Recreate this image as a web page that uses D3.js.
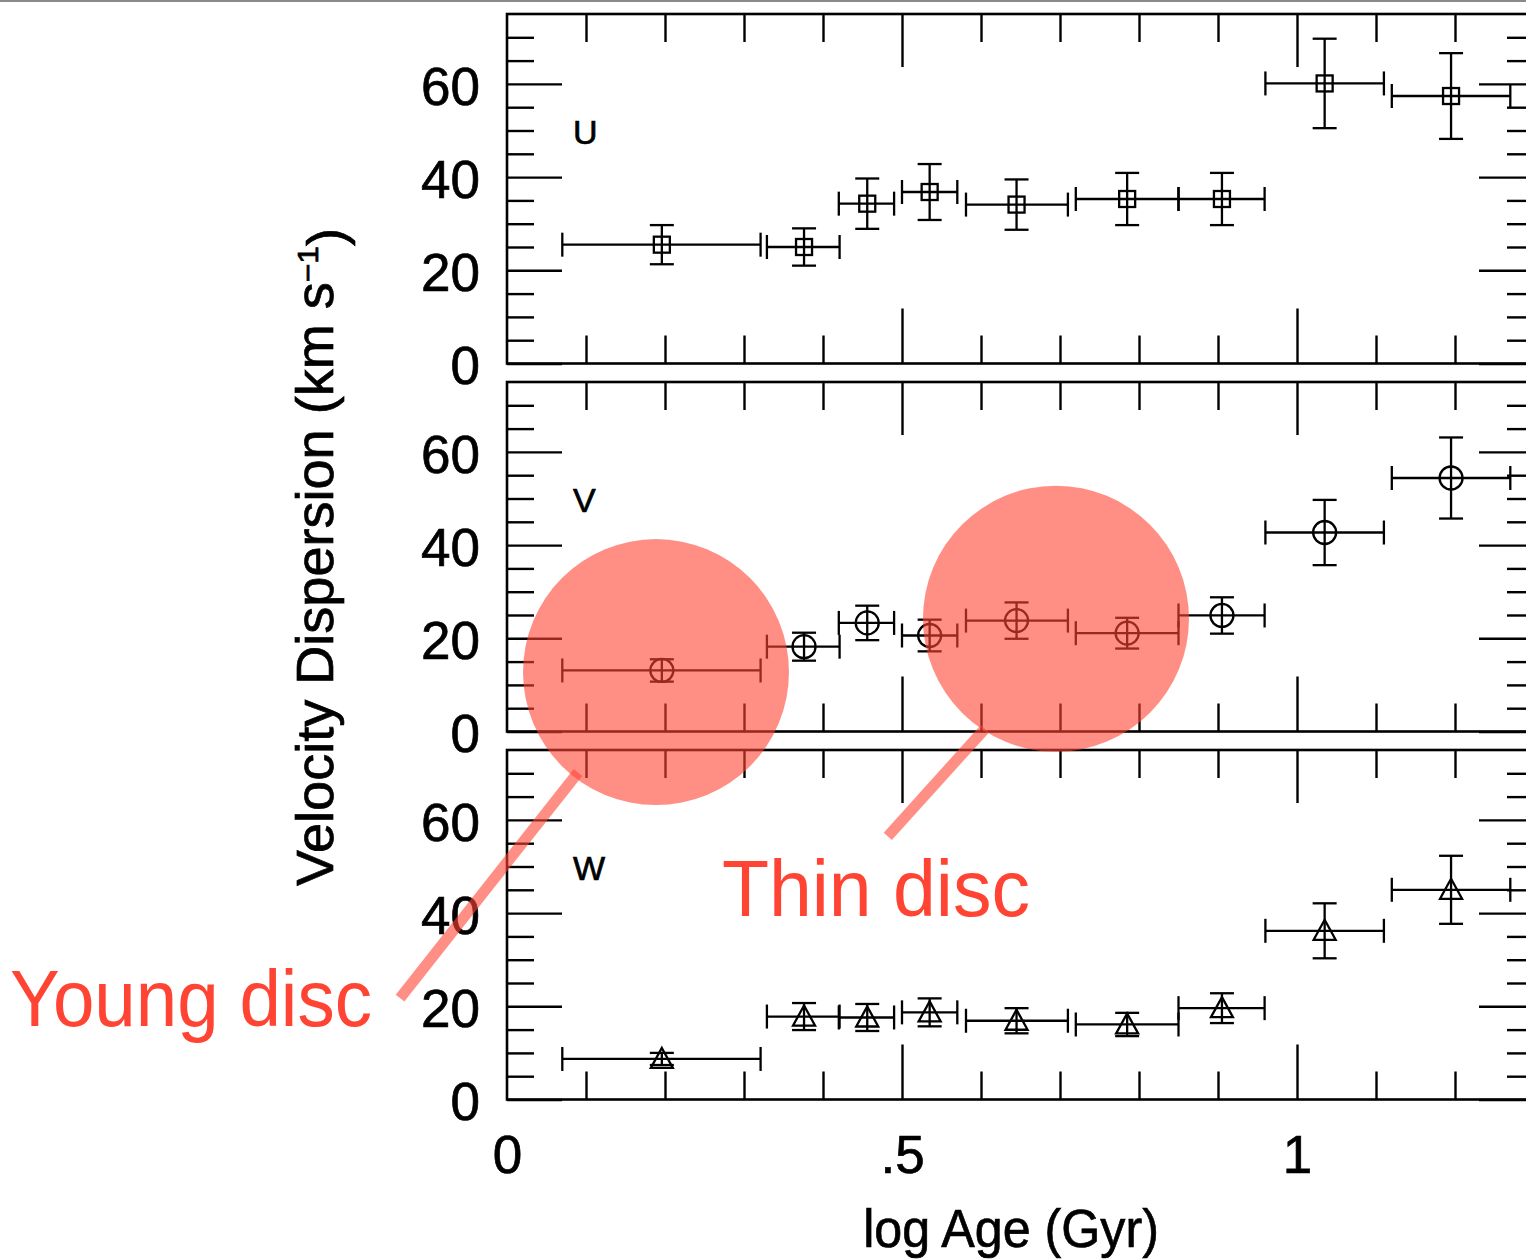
<!DOCTYPE html>
<html>
<head>
<meta charset="utf-8">
<script src="https://d3js.org/d3.v7.min.js"></script>
<style>
  body { margin: 0; background: #fff; overflow: hidden; }
  text { font-family: "Liberation Sans", Helvetica, Arial, sans-serif; }
  .ink { stroke: #000; stroke-width: 0.7px; }
</style>
</head>
<body>
<svg width="1526" height="1260"></svg>
<script>
  // age bins (log Age, Gyr): centre and bin edges
  var ageMid = [0.196, 0.376, 0.456, 0.535, 0.645, 0.785, 0.905, 1.035, 1.195];
  var ageLo  = [0.070, 0.329, 0.420, 0.500, 0.581, 0.720, 0.850, 0.960, 1.120];
  var ageHi  = [0.321, 0.421, 0.490, 0.570, 0.710, 0.850, 0.959, 1.110, 1.270];

  // velocity dispersions (km/s) and their errors
  var sigU = [25.5, 25.0, 34.3, 36.8, 34.1, 35.3, 35.3, 60.1, 57.4];
  var errU = [ 4.2,  4.0,  5.4,  6.0,  5.4,  5.6,  5.6,  9.6,  9.2];
  var sigV = [13.1, 18.2, 23.3, 20.6, 23.8, 21.1, 24.9, 42.7, 54.4];
  var errV = [ 2.4,  3.0,  3.7,  3.4,  3.9,  3.3,  3.9,  7.0,  8.7];
  var sigW = [ 8.7, 17.8, 17.6, 18.7, 16.9, 16.1, 19.6, 36.2, 45.0];
  var errW = [ 1.3,  2.9,  2.9,  3.0,  2.7,  2.5,  3.2,  5.9,  7.3];

  var panelNames = ["U", "V", "W"];
  var yTicks = [0, 20, 40, 60];
  var xTicks = [0, 0.5, 1];
  var xTickLabels = ["0", ".5", "1"];

  // annotations, in age / V-panel km/s units
  var noteLabels = ["Young disc", "Thin disc"];
  var noteCx = [0.1886, 0.6949];
  var noteCy = [12.75, 24.2];
  var noteLineFrom = [[0.0899, -8.8], [0.605, 0.6]];
  var noteLineTo = [[-0.1354, -57.2], [0.482, -22.5]];
  var noteTextFrom = [-0.629, 0.272];
  var noteTextTo = [-0.171, 0.662];
  var noteTextY = [-63.2, -39.6];

  var svg = d3.select("svg"),
    width = +svg.attr("width"),
    height = +svg.attr("height");

  var red = "#ff4433";
  var xscale = d3.scaleLinear().domain([0, 1.3]).range([507, 1534]);
  var panelTop = [14, 382, 750],
    panelH = 349.5;

  // thin grey rule along the top edge
  svg.append("rect").attr("x", 0).attr("y", 0).attr("width", width).attr("height", 2).attr("fill", "#8a8a8a");

  var yscales = [];
  var series = [[sigU, errU], [sigV, errV], [sigW, errW]];
  var minorY = d3.range(5, 75, 5).filter(function(v) { return v % 20 != 0; });
  var minorX = d3.range(0.1, 1.3, 0.1).filter(function(v) { return Math.abs(v - 0.5) > 0.01 && Math.abs(v - 1) > 0.01; });
  var majorX = [0.5, 1.0];

  panelNames.forEach(function(name, p) {
    var top = panelTop[p], bottom = top + panelH;
    var yscale = d3.scaleLinear().domain([0, 75]).range([bottom, top]);
    yscales.push(yscale);
    var g = svg.append("g");

    function ticks(axis, tr, vals, size) {
      var a = g.append("g").attr("transform", tr)
        .call(axis.tickValues(vals).tickSize(size).tickFormat(""));
      a.select(".domain").remove();
      a.selectAll("line").attr("stroke", "#000").attr("stroke-width", 2.4);
    }
    // inward ticks on all four sides
    ticks(d3.axisRight(yscale), "translate(507,0)", yTicks, 55);
    ticks(d3.axisRight(yscale), "translate(507,0)", minorY, 27);
    ticks(d3.axisLeft(yscale), "translate(1534,0)", yTicks, 55);
    ticks(d3.axisLeft(yscale), "translate(1534,0)", minorY, 27);
    ticks(d3.axisBottom(xscale), "translate(0," + top + ")", majorX, 53);
    ticks(d3.axisBottom(xscale), "translate(0," + top + ")", minorX, 28);
    ticks(d3.axisTop(xscale), "translate(0," + bottom + ")", majorX, 55);
    ticks(d3.axisTop(xscale), "translate(0," + bottom + ")", minorX, 28);

    // y tick labels
    var yl = g.append("g").attr("transform", "translate(507,0)")
      .call(d3.axisLeft(yscale).tickValues(yTicks).tickSize(0).tickPadding(27));
    yl.select(".domain").remove();
    yl.selectAll("text").attr("font-size", 53).attr("fill", "#000").attr("class", "ink")
      .attr("font-family", "Liberation Sans, Helvetica, Arial, sans-serif").attr("dy", "0.38em");

    // frame
    g.append("rect").attr("x", xscale(0)).attr("y", top)
      .attr("width", xscale(1.3) - xscale(0)).attr("height", panelH)
      .attr("fill", "none").attr("stroke", "#000").attr("stroke-width", 2.6);

    // panel letter
    g.append("text").attr("x", xscale(0.0835)).attr("y", yscale(47)).attr("class", "ink")
      .attr("font-size", 34).text(name);

    // error bars
    var sig = series[p][0], err = series[p][1];
    var pts = g.selectAll("g.pt").data(ageMid).enter().append("g").attr("class", "pt");
    pts.append("line")
      .attr("x1", function(d, i) { return xscale(ageLo[i]); })
      .attr("x2", function(d, i) { return xscale(ageHi[i]); })
      .attr("y1", function(d, i) { return yscale(sig[i]); })
      .attr("y2", function(d, i) { return yscale(sig[i]); });
    [ageLo, ageHi].forEach(function(edge) {
      pts.append("line")
        .attr("x1", function(d, i) { return xscale(edge[i]); })
        .attr("x2", function(d, i) { return xscale(edge[i]); })
        .attr("y1", function(d, i) { return yscale(sig[i]) - 12; })
        .attr("y2", function(d, i) { return yscale(sig[i]) + 12; });
    });
    pts.append("line")
      .attr("x1", function(d) { return xscale(d); })
      .attr("x2", function(d) { return xscale(d); })
      .attr("y1", function(d, i) { return yscale(sig[i] + err[i]); })
      .attr("y2", function(d, i) { return yscale(sig[i] - err[i]); });
    [1, -1].forEach(function(s) {
      pts.append("line")
        .attr("x1", function(d) { return xscale(d) - 12; })
        .attr("x2", function(d) { return xscale(d) + 12; })
        .attr("y1", function(d, i) { return yscale(sig[i] + s * err[i]); })
        .attr("y2", function(d, i) { return yscale(sig[i] + s * err[i]); });
    });
    pts.selectAll("line").attr("stroke", "#000").attr("stroke-width", 2.3);

    // markers (hollow)
    var mk;
    if (name == "U") {
      mk = pts.append("rect")
        .attr("x", function(d) { return xscale(d) - 8; })
        .attr("y", function(d, i) { return yscale(sig[i]) - 8; })
        .attr("width", 16).attr("height", 16);
    } else if (name == "V") {
      mk = pts.append("circle")
        .attr("cx", function(d) { return xscale(d); })
        .attr("cy", function(d, i) { return yscale(sig[i]); })
        .attr("r", 11.5);
    } else {
      mk = pts.append("path")
        .attr("d", function(d, i) {
          var cx = xscale(d), cy = yscale(sig[i]);
          return "M" + cx + "," + (cy - 11) + "L" + (cx + 11) + "," + (cy + 9) + "L" + (cx - 11) + "," + (cy + 9) + "Z";
        });
    }
    mk.attr("fill", "none").attr("stroke", "#000").attr("stroke-width", 2.3);
  });

  // x tick labels on bottom panel
  var lastBottom = panelTop[2] + panelH;
  var xl = svg.append("g").attr("transform", "translate(0," + lastBottom + ")")
    .call(d3.axisBottom(xscale).tickValues(xTicks).tickSize(0).tickPadding(36)
      .tickFormat(function(d, i) { return xTickLabels[i]; }));
  xl.select(".domain").remove();
  xl.selectAll("text").attr("font-size", 53).attr("fill", "#000").attr("class", "ink")
    .attr("font-family", "Liberation Sans, Helvetica, Arial, sans-serif");

  // axis titles (the original lettering is a little condensed and tall)
  svg.append("text").attr("transform", "translate(1011,1247) scale(0.93,1)")
    .attr("text-anchor", "middle").attr("class", "ink")
    .attr("font-size", 54).text("log Age (Gyr)");

  var yt = svg.append("text").attr("transform", "translate(333,557) rotate(-90) scale(1.06,1)")
    .attr("text-anchor", "middle").attr("class", "ink").attr("font-size", 51);
  yt.append("tspan").text("Velocity Dispersion (km s");
  yt.append("tspan").attr("dy", "-0.5em").attr("font-size", 30).text("\u22121");
  yt.append("tspan").attr("dy", "0.5em").text(")");

  // annotations
  var yv = yscales[1];
  var ann = svg.append("g");
  noteLabels.forEach(function(label, i) {
    ann.append("circle").attr("cx", xscale(noteCx[i])).attr("cy", yv(noteCy[i]))
      .attr("r", 133).attr("fill", red).attr("fill-opacity", 0.6);
    ann.append("line")
      .attr("x1", xscale(noteLineFrom[i][0])).attr("y1", yv(noteLineFrom[i][1]))
      .attr("x2", xscale(noteLineTo[i][0])).attr("y2", yv(noteLineTo[i][1]))
      .attr("stroke", red).attr("stroke-opacity", 0.6).attr("stroke-width", 11);
    ann.append("text").attr("x", xscale(noteTextFrom[i])).attr("y", yv(noteTextY[i]))
      .attr("font-family", "Open Sans, Lato, sans-serif").attr("font-size", 80)
      .attr("textLength", xscale(noteTextTo[i]) - xscale(noteTextFrom[i]))
      .attr("lengthAdjust", "spacingAndGlyphs")
      .attr("fill", red).text(label);
  });
</script>
</body>
</html>
